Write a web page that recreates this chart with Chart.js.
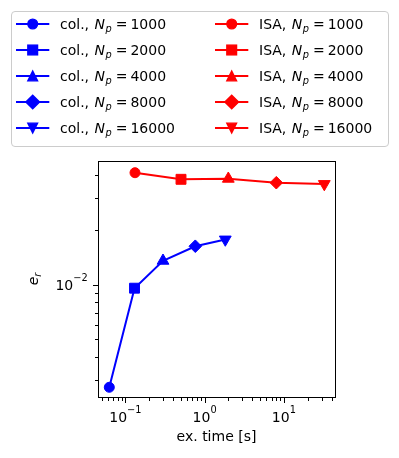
<!DOCTYPE html>
<html>
<head>
<meta charset="utf-8">
<script src="https://cdn.jsdelivr.net/npm/chart.js@4/dist/chart.umd.min.js"></script>
<style>
  html, body { margin: 0; padding: 0; background: #ffffff; }
  #wrap { position: relative; width: 399px; height: 458px; overflow: hidden; font-family: "DejaVu Sans", sans-serif; }
  #c { position: absolute; left: 0; top: 0; }
  #legendBox { position: absolute; left: 11px; top: 11px; width: 378px; height: 136px; box-sizing: border-box;
               border: 1px solid #cccccc; border-radius: 4px; background: rgba(255,255,255,0.8); }
  .entry { position: absolute; height: 20px; white-space: nowrap; color: #000; font-size: 14px; line-height: 20px; }
  .entry svg { position: absolute; left: 0; top: 0; }
  .entry .txt { position: absolute; left: 44px; top: 0; }
  .entry .n { margin-left: 1px; }
  .entry .sub { position: relative; top: 3px; font-size: 9.8px; font-style: italic; margin-left: 0.5px; }
  .entry .eq { margin: 0 3px 0 4px; }
</style>
</head>
<body>
<div id="wrap">
  <canvas id="c" width="399" height="458"></canvas>
  <div id="legendBox"></div>
</div>
<script>
// ---- data ----
const npLabels = ['1000', '2000', '4000', '8000', '16000'];
const seriesNames = ['col.', 'ISA'];
const seriesColors = ['#0000ff', '#ff0000'];
const colTime = [0.0627, 0.1305, 0.2986, 0.763, 1.824];
const colErr  = [0.002731, 0.009567, 0.01353, 0.01627, 0.01772];
const isaTime = [0.1323, 0.5037, 1.991, 8.03, 32.39];
const isaErr  = [0.04124, 0.03794, 0.03819, 0.03634, 0.03575];
const xTickValues = [0.1, 1, 10];
const xTickExponents = ['\u22121', '0', '1'];
const yTickValues = [0.01];
const yTickExponents = ['\u22122'];
const xLimits = [0.04515, 44.2];
const yLimits = [0.002415, 0.04783];

// marker styles per point (matplotlib o, s, ^, D, v)
const markerStyles = ['circle', 'rect', 'triangle', 'rectRot', 'triangle'];
const markerRotations = [0, 0, 0, 0, 180];
const markerRadii = [5, 7, 6.8, 6.3, 6.8];

const FONT = '"DejaVu Sans"';

function toPoints(xs, ys) { return xs.map((x, i) => ({ x: x, y: ys[i] })); }

function makeDataset(name, color, xs, ys) {
  return {
    label: name,
    data: toPoints(xs, ys),
    borderColor: color,
    backgroundColor: color,
    borderWidth: 2,
    tension: 0,
    pointStyle: markerStyles,
    pointRotation: markerRotations,
    pointRadius: markerRadii,
    pointHoverRadius: markerRadii,
    pointBackgroundColor: color,
    pointBorderColor: color,
    pointBorderWidth: 1
  };
}

// draws "10" with a raised exponent, mathtext-like
function drawPow(ctx, exp, x, baseline, align) {
  ctx.font = '14px ' + FONT;
  const w1 = ctx.measureText('10').width;
  ctx.font = '9.8px ' + FONT;
  const w2 = ctx.measureText(exp).width;
  const total = w1 + w2;
  const x0 = align === 'center' ? x - total / 2 : x - total;
  ctx.textAlign = 'left';
  ctx.textBaseline = 'alphabetic';
  ctx.font = '14px ' + FONT;
  ctx.fillText('10', x0, baseline);
  ctx.font = '9.8px ' + FONT;
  ctx.fillText(exp, x0 + w1, baseline - 8.5);
}

const mplFrame = {
  id: 'mplFrame',
  afterDraw(chart) {
    const ctx = chart.ctx, a = chart.chartArea;
    const xs = chart.scales.x, ys = chart.scales.y;
    ctx.save();
    ctx.strokeStyle = '#000';
    ctx.fillStyle = '#000';
    ctx.lineWidth = 1;
    ctx.strokeRect(a.left + 0.5, a.top + 0.5, a.right - a.left, a.bottom - a.top);
    for (let e = -4; e <= 3; e++) {
      for (let m = 1; m <= 9; m++) {
        const v = m * Math.pow(10, e);
        const len = m === 1 ? 5 : 3;
        if (v >= xs.min && v <= xs.max) {
          const p = Math.round(xs.getPixelForValue(v)) + 0.5;
          ctx.beginPath(); ctx.moveTo(p, a.bottom + 1); ctx.lineTo(p, a.bottom + 1 + len); ctx.stroke();
        }
        if (v >= ys.min && v <= ys.max) {
          const p = Math.round(ys.getPixelForValue(v)) + 0.5;
          ctx.beginPath(); ctx.moveTo(a.left, p); ctx.lineTo(a.left - len, p); ctx.stroke();
        }
      }
    }
    // tick labels
    xTickValues.forEach((v, i) => {
      drawPow(ctx, xTickExponents[i], xs.getPixelForValue(v), a.bottom + 24.7, 'center');
    });
    yTickValues.forEach((v, i) => {
      drawPow(ctx, yTickExponents[i], a.left - 10.3, ys.getPixelForValue(v) + 5.3, 'right');
    });
    // y axis label e_r
    const cy = (a.top + a.bottom) / 2;
    ctx.font = 'italic 14px ' + FONT;
    const we = ctx.measureText('e').width;
    ctx.font = 'italic 9.8px ' + FONT;
    const wr = ctx.measureText('r').width;
    ctx.translate(37.5, cy + (we + wr) / 2);
    ctx.rotate(-Math.PI / 2);
    ctx.textAlign = 'left';
    ctx.textBaseline = 'alphabetic';
    ctx.font = 'italic 14px ' + FONT;
    ctx.fillText('e', 0, 0);
    ctx.font = 'italic 9.8px ' + FONT;
    ctx.fillText('r', we, 3);
    ctx.restore();
  }
};

new Chart(document.getElementById('c'), {
  type: 'line',
  data: {
    datasets: [
      makeDataset(seriesNames[0], seriesColors[0], colTime, colErr),
      makeDataset(seriesNames[1], seriesColors[1], isaTime, isaErr)
    ]
  },
  options: {
    responsive: false,
    devicePixelRatio: 1,
    animation: false,
    events: [],
    layout: { padding: { top: 161, right: 64, left: 0, bottom: 0 } },
    plugins: { legend: { display: false }, tooltip: { enabled: false } },
    scales: {
      x: {
        type: 'logarithmic',
        position: 'bottom',
        min: xLimits[0], max: xLimits[1],
        grid: { display: false },
        border: { display: false },
        ticks: { display: false },
        title: { display: true, text: 'ex. time [s]', color: '#000', font: { family: 'DejaVu Sans', size: 14 },
                 padding: { top: 0, bottom: 12 } },
        afterFit(s) { s.height = 61; }
      },
      y: {
        type: 'logarithmic',
        position: 'left',
        min: yLimits[0], max: yLimits[1],
        grid: { display: false },
        border: { display: false },
        ticks: { display: false },
        title: { display: false },
        afterFit(s) { s.width = 98; }
      }
    }
  },
  plugins: [mplFrame]
});

// ---- legend (HTML text, markers drawn as matplotlib-style glyphs) ----
function glyph(style, color) {
  const cx = 16.7, cy = 10, ms = 9.7, h = ms / 2;
  let shape = '';
  const common = 'fill="' + color + '" stroke="' + color + '" stroke-width="1.4"';
  if (style === 0) shape = '<circle cx="' + cx + '" cy="' + cy + '" r="' + h + '" ' + common + '/>';
  else if (style === 1) shape = '<rect x="' + (cx - h) + '" y="' + (cy - h) + '" width="' + ms + '" height="' + ms + '" ' + common + '/>';
  else if (style === 2) shape = '<polygon points="' + cx + ',' + (cy - h) + ' ' + (cx - h) + ',' + (cy + h) + ' ' + (cx + h) + ',' + (cy + h) + '" ' + common + '/>';
  else if (style === 3) { const d = ms * Math.SQRT1_2; shape = '<polygon points="' + cx + ',' + (cy - d) + ' ' + (cx + d) + ',' + cy + ' ' + cx + ',' + (cy + d) + ' ' + (cx - d) + ',' + cy + '" ' + common + '/>'; }
  else shape = '<polygon points="' + cx + ',' + (cy + h) + ' ' + (cx - h) + ',' + (cy - h) + ' ' + (cx + h) + ',' + (cy - h) + '" ' + common + '/>';
  return '<svg width="40" height="20" xmlns="http://www.w3.org/2000/svg">' +
         '<line x1="0" y1="' + cy + '" x2="33.3" y2="' + cy + '" stroke="' + color + '" stroke-width="2"/>' + shape + '</svg>';
}

const wrap = document.getElementById('wrap');
const colX = [16, 215];
for (let s = 0; s < seriesNames.length; s++) {
  for (let i = 0; i < npLabels.length; i++) {
    const rowY = 24 + i * 25.9;
    const d = document.createElement('div');
    d.className = 'entry';
    d.style.left = colX[s] + 'px';
    d.style.top = (rowY - 10) + 'px';
    d.innerHTML = glyph(i, seriesColors[s]) +
      '<span class="txt">' + seriesNames[s] + ', <i class="n">N</i><span class="sub">p</span><span class="eq">=</span>' + npLabels[i] + '</span>';
    wrap.appendChild(d);
  }
}
</script>
</body>
</html>
